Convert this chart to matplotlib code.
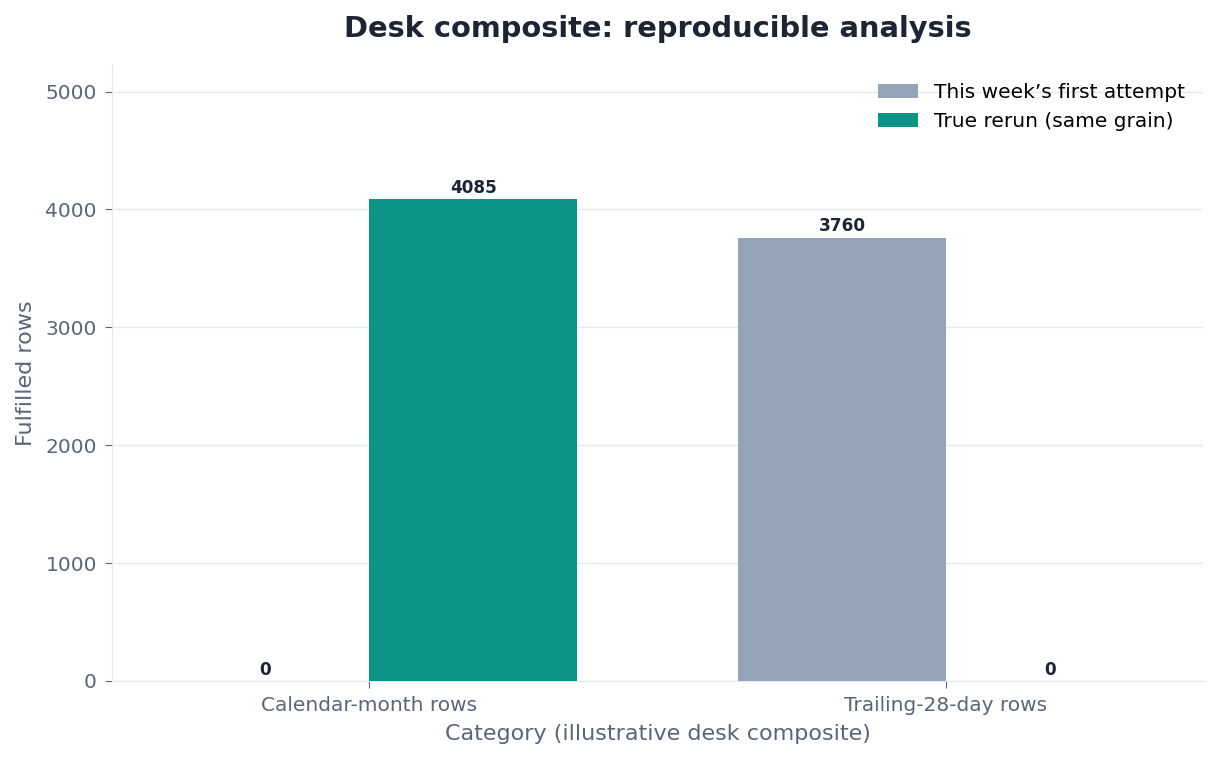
import matplotlib
matplotlib.use("Agg")
import matplotlib.pyplot as plt
import numpy as np

categories = ["Calendar-month rows", "Trailing-28-day rows"]
series_names = ["This week\u2019s first attempt", "True rerun (same grain)"]
first_attempt = [0, 3760]
true_rerun = [4085, 0]
colors = ["#94a3b8", "#0d9488"]

fig, ax = plt.subplots(figsize=(12.19, 7.6), dpi=100)
fig.subplots_adjust(left=0.092, right=0.987, top=0.915, bottom=0.104)

x = np.arange(len(categories))
w = 0.36
b1 = ax.bar(x - w / 2, first_attempt, w, color=colors[0], label=series_names[0], zorder=3)
b2 = ax.bar(x + w / 2, true_rerun, w, color=colors[1], label=series_names[1], zorder=3)

for bars in (b1, b2):
    for r in bars:
        h = r.get_height()
        ax.text(r.get_x() + r.get_width() / 2, h + 20, f"{int(h)}", ha="center", va="bottom",
                fontsize=12.2, fontweight="bold", color="#1e2433")

ymax = max(max(first_attempt), max(true_rerun))
ax.set_ylim(0, ymax * 1.28)
ax.set_xticks(x)
ax.set_xticklabels(categories)
ax.set_yticks([0, 1000, 2000, 3000, 4000, 5000])

ax.grid(axis="y", color="#e2e8f0", linewidth=1, zorder=0)
ax.set_axisbelow(True)
for s in ("top", "right"):
    ax.spines[s].set_visible(False)
for s in ("left", "bottom"):
    ax.spines[s].set_color("#e2e8f0")
ax.tick_params(axis="both", colors="#5b6478", labelsize=14.5, length=5)
ax.tick_params(axis="y", pad=6)
ax.tick_params(axis="x", pad=6)

ax.set_xlabel("Category (illustrative desk composite)", fontsize=16, color="#5b6478", labelpad=6)
ax.set_ylabel("Fulfilled rows", fontsize=16, color="#5b6478", labelpad=7)
ax.set_title("Desk composite: reproducible analysis", fontsize=20.8, fontweight="bold",
             color="#1e2433", pad=20)

ax.legend(loc="upper right", frameon=False, fontsize=14.5, handlelength=2.0,
          bbox_to_anchor=(1.0, 1.0))

fig.savefig("out.png", dpi=100)
